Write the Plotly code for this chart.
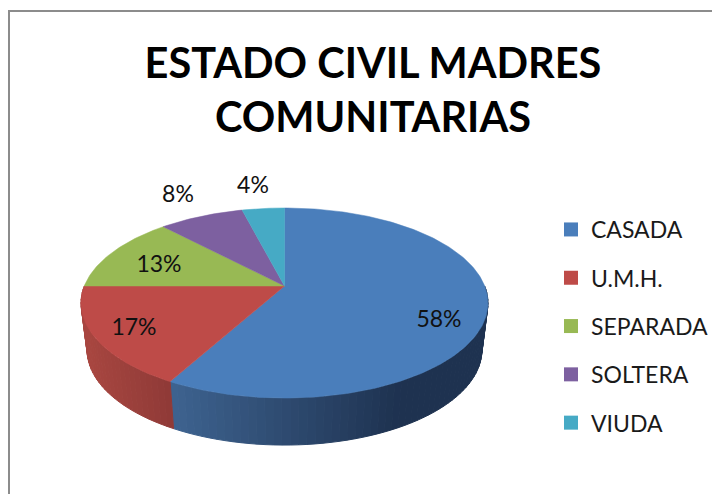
import math
import plotly.graph_objects as go

# ---- data ----
categories = ["CASADA", "U.M.H.", "SEPARADA", "SOLTERA", "VIUDA"]
percent_values = [58, 17, 13, 8, 4]
title_lines = ["ESTADO CIVIL MADRES", "COMUNITARIAS"]

# ---- styles ----
top_colors = ["#4a7ebb", "#be4b48", "#98b954", "#7d60a0", "#46aac5"]
wall_left = {0: (62, 99, 144), 1: (168, 70, 64)}
wall_right = {0: (30, 50, 80), 1: (143, 58, 55)}
wall_span = {0: (170, 400), 1: (85, 170)}
label_xy = [(439, 321), (134, 329), (159, 266), (178, 196), (253, 187)]

# ---- projection of the tilted pie, in page pixels ----
CX, CY = 284.5, 286.0
RX, RY, K = 200.2, 92.0, 0.179
DEPTH, BOTTOM_SCALE = 47.0, 0.97
PAGE_W, PAGE_H = 720, 494
BODY = 8  # the page's own margin
W, H = PAGE_W - BODY, PAGE_H - BODY


def top_pt(theta):
    u, v = math.sin(math.radians(theta)), math.cos(math.radians(theta))
    d = 1 + K * v
    return CX + RX * u / d, CY - RY * v / d


def bottom_pt(theta):
    x, y = top_pt(theta)
    return CX + BOTTOM_SCALE * (x - CX), y + DEPTH


fig = go.Figure()
total = sum(percent_values)
starts, run = [], 0.0
for v in percent_values:
    starts.append(run)
    run += v * 360.0 / total
ends = starts[1:] + [360.0]

# side wall: narrow strips, shaded left to right
STEP = 2.0
for idx in (0, 1):
    a0, a1 = max(starts[idx], 90.0), min(ends[idx], 270.0)
    n = max(1, int(round((a1 - a0) / STEP)))
    for i in range(n):
        t0, t1 = a0 + (a1 - a0) * i / n, a0 + (a1 - a0) * (i + 1) / n
        p0, p1, q1, q0 = top_pt(t0), top_pt(t1), bottom_pt(t1), bottom_pt(t0)
        xm = (p0[0] + p1[0]) / 2
        lo, hi = wall_span[idx]
        f = min(1.0, max(0.0, (xm - lo) / (hi - lo)))
        c = [round(wall_left[idx][j] + (wall_right[idx][j] - wall_left[idx][j]) * f) for j in range(3)]
        col = f"rgb({c[0]},{c[1]},{c[2]})"
        fig.add_trace(go.Scatter(
            x=[p0[0], p1[0], q1[0], q0[0], p0[0]],
            y=[p0[1], p1[1], q1[1], q0[1], p0[1]],
            mode="lines", fill="toself", fillcolor=col,
            line=dict(color=col, width=1), showlegend=False, hoverinfo="skip"))

# top faces
for i, name in enumerate(categories):
    n = max(2, int(ends[i] - starts[i]))
    pts = [top_pt(starts[i] + (ends[i] - starts[i]) * k / n) for k in range(n + 1)]
    xs = [CX] + [p[0] for p in pts] + [CX]
    ys = [CY] + [p[1] for p in pts] + [CY]
    fig.add_trace(go.Scatter(
        x=xs, y=ys, mode="lines", fill="toself", fillcolor=top_colors[i],
        line=dict(color=top_colors[i], width=0.5), showlegend=False,
        name=name, hoverinfo="name"))

# data labels
fig.add_trace(go.Scatter(
    x=[p[0] for p in label_xy], y=[p[1] for p in label_xy],
    text=[f"{v}%" for v in percent_values], mode="text",
    textposition="middle center",
    textfont=dict(family="Lato", size=23, color="#111111"),
    showlegend=False, hoverinfo="skip"))

# legend entries
for i, name in enumerate(categories):
    fig.add_trace(go.Scatter(
        x=[None], y=[None], mode="markers", name=name, legendgroup=name,
        marker=dict(symbol="square", size=14, color=top_colors[i])))

title_font = dict(family="Lato", size=41.5, color="#000000", weight="bold")
fig.update_layout(
    width=W, height=H, autosize=False,
    margin=dict(l=0, r=0, t=0, b=0),
    paper_bgcolor="white", plot_bgcolor="white",
    xaxis=dict(range=[BODY, PAGE_W], visible=False, fixedrange=True),
    yaxis=dict(range=[PAGE_H, BODY], visible=False, fixedrange=True),
    title=dict(text="<br>".join(title_lines),
               x=(373 - BODY) / W, xanchor="center",
               y=1 - (78 - BODY) / H, yanchor="top",
               font=title_font),
    legend=dict(x=(557 - BODY) / W, xanchor="left", y=1 - (208 - BODY) / H, yanchor="top",
                font=dict(family="Lato", size=23, color="#1a1a1a"),
                traceorder="grouped", tracegroupgap=15.4, indentation=-6,
                bgcolor="rgba(0,0,0,0)", itemclick=False, itemdoubleclick=False),
    shapes=[
        dict(type="line", xref="x", yref="y", x0=9, x1=PAGE_W, y0=11, y1=11,
             line=dict(color="#8c8c8c", width=2)),
        dict(type="line", xref="x", yref="y", x0=9, x1=9, y0=10, y1=PAGE_H,
             line=dict(color="#8c8c8c", width=2)),
    ],
)

fig.write_html("out.html")
